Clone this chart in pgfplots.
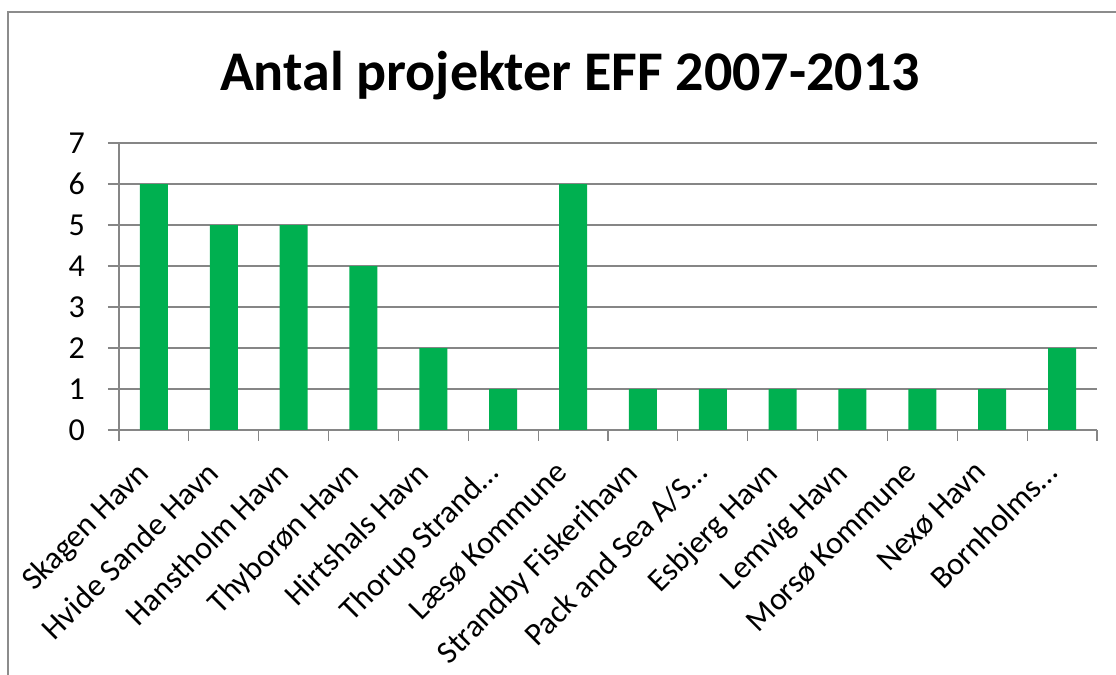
\documentclass[border=0pt]{standalone}
\usepackage{pgfplots}
\pgfplotsset{compat=1.18}
\usepackage{fontspec}
\setmainfont{Carlito}
\definecolor{bargreen}{HTML}{00B050}
\definecolor{gridgray}{HTML}{868686}
\definecolor{framegray}{HTML}{8C8C8C}
\begin{document}
\begin{tikzpicture}[x=0.5pt,y=0.5pt]
\useasboundingbox (0,0) rectangle (1116,675);
% chart frame (runs off right and bottom)
\draw[line width=1.2pt, framegray] (8,-20) -- (8,663) -- (1140,663);
\node[anchor=base, font=\fontsize{28}{34}\selectfont\bfseries] at (570,584) {Antal projekter EFF 2007-2013};
\begin{axis}[
    at={(59.5pt,122.5pt)}, anchor=south west,
    width=489pt, height=143.5pt, scale only axis,
    ybar, bar width=14pt, bar shift=0pt,
    xmin=-0.5, xmax=13.5, ymin=0, ymax=7,
    axis x line*=bottom, axis y line*=left,
    axis line style={gridgray, line width=0.6pt, -},
    xtick={0,...,13},
    xticklabels={Skagen Havn, Hvide Sande Havn, Hanstholm Havn, Thyborøn Havn, Hirtshals Havn, Thorup Strand\dots, Læsø Kommune, Strandby Fiskerihavn, Pack and Sea A/S\dots, Esbjerg Havn, Lemvig Havn, Morsø Kommune, Nexø Havn, Bornholms\dots},
    minor xtick={-0.5,0.5,...,13.5},
    ytick={0,...,7},
    tick align=outside,
    major tick length=5.5pt,
    minor tick length=5.5pt,
    x tick style={draw=none},
    minor x tick style={draw=gridgray, line width=0.6pt},
    y tick style={gridgray, line width=0.6pt},
    ymajorgrids,
    grid style={gridgray, line width=0.6pt},
    x tick label style={xshift=-9.5pt, yshift=-9pt, rotate=45, anchor=north east, inner sep=0pt},
    y tick label style={xshift=-8pt},
    tick label style={font=\fontsize{16}{19}\selectfont},
    /pgf/number format/assume math mode=true,
  ]
\addplot[fill=bargreen, draw=none] coordinates {
  (0,6) (1,5) (2,5) (3,4) (4,2) (5,1) (6,6) (7,1) (8,1) (9,1) (10,1) (11,1) (12,1) (13,2)};
\end{axis}
\end{tikzpicture}
\end{document}
